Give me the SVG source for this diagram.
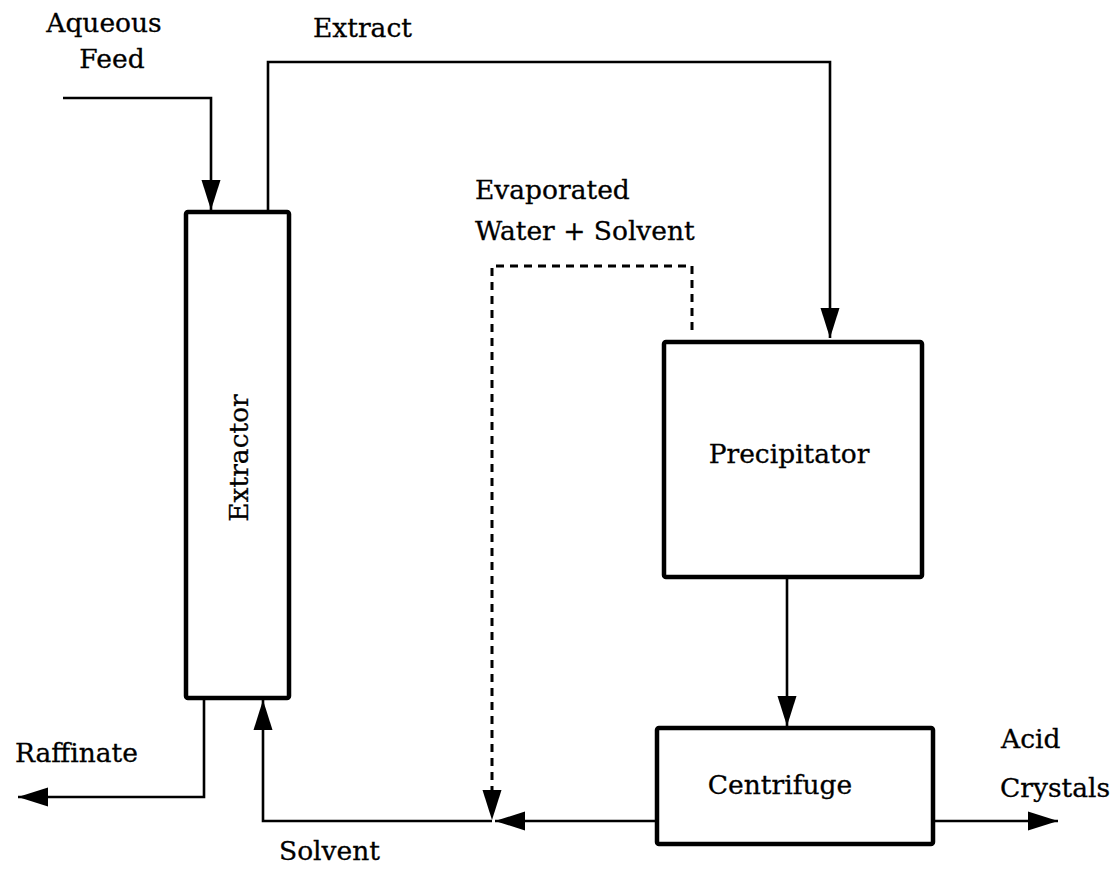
<svg xmlns="http://www.w3.org/2000/svg" width="1117" height="870" viewBox="0 0 1117 870">
<style>
.box{fill:#fff;stroke:#000;stroke-width:4.5;stroke-linejoin:round}
.ln{fill:none;stroke:#000;stroke-width:2.6}
.dash{fill:none;stroke:#000;stroke-width:3;stroke-dasharray:8 6}
text{font-family:"DejaVu Serif","Liberation Serif",serif;font-size:26.5px;fill:#000;stroke:#000;stroke-width:0.3}
</style>
<defs>
<marker id="ah" markerUnits="userSpaceOnUse" markerWidth="30" markerHeight="20" refX="30" refY="10" orient="auto">
<path d="M0,0.5 L30,10 L0,19.5 Z" fill="#000" stroke="none"/>
</marker>
</defs>
<rect width="1117" height="870" fill="#fff"/>
<g id="connectors">
<polyline class="ln" points="63,98 211,98 211,210" marker-end="url(#ah)"/>
<polyline class="ln" points="268,212 268,62 830,62 830,338" marker-end="url(#ah)"/>
<polyline class="dash" points="692,330 692,266 492,266 492,792"/>
<path d="M482.5,790 L492,820 L501.5,790 Z" fill="#000"/>
<polyline class="ln" points="657,821 495,821" marker-end="url(#ah)"/>
<polyline class="ln" points="492,821 263,821 263,700" marker-end="url(#ah)"/>
<polyline class="ln" points="204,698 204,797 18,797" marker-end="url(#ah)"/>
<polyline class="ln" points="787,577 787,726" marker-end="url(#ah)"/>
<polyline class="ln" points="933,821 1058,821" marker-end="url(#ah)"/>
</g>
<g id="extractor">
<rect class="box" x="186" y="212" width="103" height="486" rx="2"/>
<text transform="translate(248,458) rotate(-90)" text-anchor="middle">Extractor</text>
</g>
<g id="precipitator">
<rect class="box" x="664" y="342" width="258" height="235" rx="2"/>
<text x="789" y="463" text-anchor="middle">Precipitator</text>
</g>
<g id="centrifuge">
<rect class="box" x="657" y="728" width="276" height="116" rx="2"/>
<text x="780" y="794" text-anchor="middle">Centrifuge</text>
</g>
<g id="labels">
<text x="104" y="32" text-anchor="middle">Aqueous</text>
<text x="112" y="68" text-anchor="middle">Feed</text>
<text x="313" y="37">Extract</text>
<text x="475" y="199">Evaporated</text>
<text x="475" y="240">Water + Solvent</text>
<text x="15" y="762">Raffinate</text>
<text x="279" y="860">Solvent</text>
<text x="1001" y="748">Acid</text>
<text x="1000" y="797">Crystals</text>
</g>
</svg>
